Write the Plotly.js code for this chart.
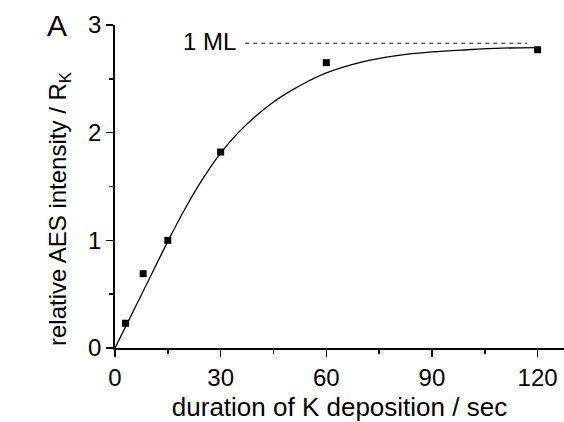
<!DOCTYPE html>
<html>
<head>
<meta charset="utf-8">
<script src="https://cdn.plot.ly/plotly-3.0.1.min.js"></script>
<style>html,body{margin:0;padding:0;background:#fff;}#chart{width:564px;height:422px;}</style>
</head>
<body>
<div id="chart"></div>
<script>
// Measured data points
const depositionTime = [3, 8, 15, 30, 60, 120];
const relIntensity = [0.23, 0.69, 1.0, 1.82, 2.65, 2.77];

// Fitted curve
const fitTime = [0, 5, 10, 15, 20, 25, 30, 35, 40, 45, 50, 55, 60, 70, 80, 90, 100, 110, 120];
const fitIntensity = [0, 0.33, 0.66, 0.99, 1.30, 1.575, 1.81, 2.00, 2.155, 2.285, 2.39, 2.48, 2.555, 2.655, 2.715, 2.75, 2.77, 2.785, 2.79];

// 1 ML reference level
const mlTime = [37, 117];
const mlLevel = [2.83, 2.83];

const xTicks = [0, 30, 60, 90, 120];
const yTicks = [0, 1, 2, 3];

const font = 'Liberation Sans, Arial, sans-serif';

const traces = [
  {x: fitTime, y: fitIntensity, mode: 'lines', line: {color: '#000', width: 1.3, shape: 'spline', smoothing: 1}, hoverinfo: 'skip', showlegend: false},
  {x: mlTime, y: mlLevel, mode: 'lines', line: {color: '#111', width: 1.1, dash: '4px,4px'}, showlegend: false},
  {x: depositionTime, y: relIntensity, mode: 'markers', marker: {symbol: 'square', size: 7, color: '#000'}, showlegend: false}
];

const layout = {
  width: 564, height: 422,
  margin: {l: 115, r: 0, t: 25, b: 74},
  paper_bgcolor: '#fff', plot_bgcolor: '#fff',
  font: {family: font, color: '#000'},
  showlegend: false,
  xaxis: {
    range: [0, 127.5], tickvals: xTicks, ticktext: xTicks.map(String),
    ticks: 'outside', ticklen: 7, tickwidth: 1.5, tickcolor: '#000',
    minor: {dtick: 15, tick0: 0, ticks: 'outside', ticklen: 4, tickwidth: 1.5, tickcolor: '#000'},
    showline: true, linecolor: '#000', linewidth: 1.8, showgrid: false, zeroline: false,
    tickfont: {size: 24, family: font, color: '#000'},
    title: {text: 'duration of K deposition / sec', font: {size: 26, family: font, color: '#000'}, standoff: 10}
  },
  yaxis: {
    range: [0, 3], tickvals: yTicks, ticktext: yTicks.map(String),
    ticks: 'outside', ticklen: 7, tickwidth: 1.5, tickcolor: '#000',
    minor: {dtick: 0.5, tick0: 0, ticks: 'outside', ticklen: 4, tickwidth: 1.5, tickcolor: '#000'},
    showline: true, linecolor: '#000', linewidth: 1.8, showgrid: false, zeroline: false,
    tickfont: {size: 24, family: font, color: '#000'}
  },
  annotations: [
    {text: 'relative AES intensity / R<sub>K</sub>', xref: 'paper', yref: 'paper', x: -0.125, y: 0.43,
     xanchor: 'center', yanchor: 'middle', textangle: -90, showarrow: false, font: {size: 24, family: font, color: '#000'}},
    {text: '1 ML', xref: 'x', yref: 'y', x: 26.8, y: 2.85, xanchor: 'center', yanchor: 'middle', showarrow: false,
     font: {size: 24, family: font, color: '#000'}},
    {text: 'A', xref: 'paper', yref: 'paper', x: -0.13, y: 1.0, xanchor: 'center', yanchor: 'middle', showarrow: false,
     font: {size: 30, family: font, color: '#000'}}
  ]
};

Plotly.newPlot('chart', traces, layout, {displayModeBar: false, staticPlot: true});
</script>
</body>
</html>
